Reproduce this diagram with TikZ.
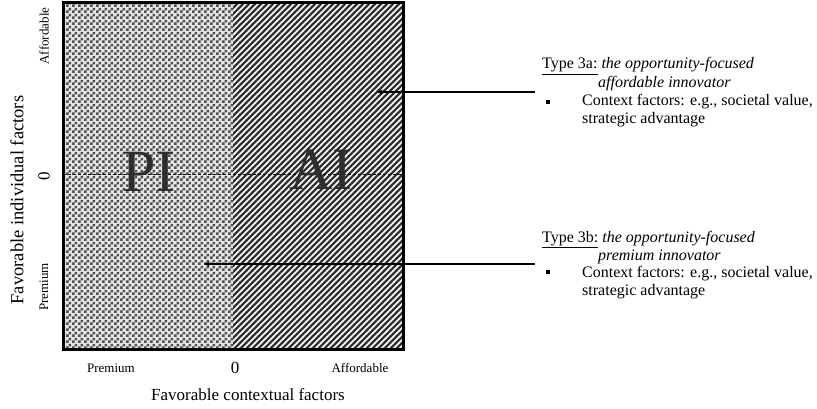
\documentclass[tikz,border=0pt]{standalone}
\usepackage{fontspec}
\setmainfont{Liberation Serif}
\usetikzlibrary{patterns,arrows.meta}
\pgfdeclarepatternformonly{mychecker}{\pgfpointorigin}{\pgfpoint{6pt}{6pt}}{\pgfpoint{6pt}{6pt}}{%
  \pgfpathrectangle{\pgfpointorigin}{\pgfpoint{3pt}{3pt}}%
  \pgfpathrectangle{\pgfpoint{3pt}{3pt}}{\pgfpoint{3pt}{3pt}}%
  \pgfusepath{fill}}
\pgfdeclarepatternformonly{mystripes}{\pgfpoint{-1pt}{-1pt}}{\pgfpoint{7pt}{7pt}}{\pgfpoint{6pt}{6pt}}{%
  \pgfsetlinewidth{2.2pt}%
  \pgfpathmoveto{\pgfpoint{-1pt}{-1pt}}%
  \pgfpathlineto{\pgfpoint{7pt}{7pt}}%
  \pgfusepath{stroke}}
\definecolor{stripe}{HTML}{333333}
\definecolor{checkc}{HTML}{505050}
\definecolor{checkbg}{HTML}{E6E6E6}
\definecolor{bigtxt}{HTML}{2E2E2E}
\begin{document}
\begin{tikzpicture}[x=1pt,y=-1pt,
  axlab/.style={inner sep=0pt,font=\fontsize{17}{17}\selectfont},
  ticklab/.style={inner sep=0pt,font=\fontsize{13}{13}\selectfont},
  biglab/.style={inner sep=0pt,text=bigtxt,font=\fontsize{60}{60}\selectfont},
  desc/.style={inner sep=0pt,anchor=base west,font=\fontsize{16}{17.5}\selectfont},
  conn/.style={line width=2pt,-{Latex[length=6pt,width=5pt]}},
  bulletbox/.style={fill=black,minimum size=4pt,inner sep=0pt}]
\useasboundingbox (0,0) rectangle (817,409);
% quadrant fills
\fill[white] (63,3) rectangle (403,349);
\fill[checkbg] (63,3) rectangle (233,349);
\fill[pattern=mychecker,pattern color=checkc] (63,3) rectangle (233,349);
\fill[pattern=mystripes,pattern color=stripe] (233,3) rectangle (403,349);
\draw[line width=0.7pt,dashed,dash pattern=on 3pt off 2pt] (63,174) -- (403,174);
\node[draw,line width=3pt,minimum width=340pt,minimum height=346pt,inner sep=0pt] (box) at (233,176) {};
% big labels
\node[biglab] (pi) at (149,172) {PI};
\node[biglab] (ai) at (321,170) {AI};
% axis labels
\node[axlab,rotate=90,font=\fontsize{18.5}{18.5}\selectfont] (ylab) at (17,200) {Favorable individual factors};
\node[ticklab,rotate=90] (yaff) at (44,36) {Affordable};
\node[axlab,rotate=90] (yzero) at (44,176) {0};
\node[ticklab,rotate=90] (yprem) at (44,287) {Premium};
\node[ticklab] (xprem) at (111,368) {Premium};
\node[axlab] (xzero) at (235,368) {0};
\node[ticklab] (xaff) at (360,368) {Affordable};
\node[axlab] (xlab) at (248,395) {Favorable contextual factors};
% descriptions
\node[desc] (t3a) at (542,69) {\underline{Type 3a:} \textit{the opportunity-focused}};
\node[desc] (t3a2) at (598,88) {\textit{affordable innovator}};
\node[bulletbox] (b3a) at (548,102) {};
\node[desc] (c3a) at (582,106) {Context factors: e.g., societal value,};
\node[desc] (s3a) at (582,124) {strategic advantage};
\node[desc] (t3b) at (542,242) {\underline{Type 3b:} \textit{the opportunity-focused}};
\node[desc] (t3b2) at (598,260) {\textit{premium innovator}};
\node[bulletbox] (b3b) at (548,272) {};
\node[desc] (c3b) at (582,277) {Context factors: e.g., societal value,};
\node[desc] (s3b) at (582,295) {strategic advantage};
% connectors
\coordinate (a1s) at (535,92);
\coordinate (a1e) at (376,92);
\coordinate (a2s) at (535,264);
\coordinate (a2e) at (203,264);
\draw[conn] (a1s) -- (a1e);
\draw[conn] (a2s) -- (a2e);
\end{tikzpicture}
\end{document}
